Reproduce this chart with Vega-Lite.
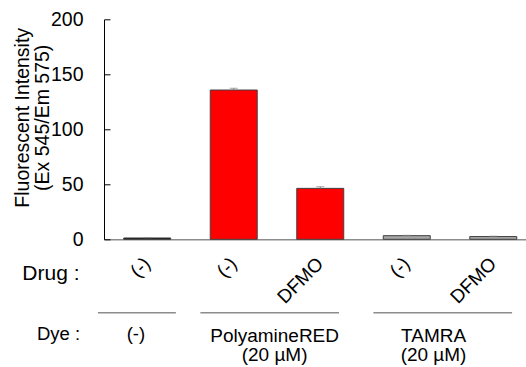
{
  "$schema": "https://vega.github.io/schema/vega-lite/v6.json",
  "width": 432.5,
  "height": 220,
  "autosize": "none",
  "padding": {"left": 104, "top": 19.3, "right": 0, "bottom": 128},
  "config": {"view": {"stroke": null}, "font": "Liberation Sans", "text": {"font": "Liberation Sans"}},
  "datasets": {
    "bars": [
      {"sample": "1 (-)", "drug": "(-)", "dye": "(-)", "value": 1.2, "hi": 1.4},
      {"sample": "2 (-)", "drug": "(-)", "dye": "PolyamineRED", "value": 135.7, "hi": 137.3},
      {"sample": "3 DFMO", "drug": "DFMO", "dye": "PolyamineRED", "value": 46.3, "hi": 47.8},
      {"sample": "4 (-)", "drug": "(-)", "dye": "TAMRA", "value": 3.3, "hi": 3.6},
      {"sample": "5 DFMO", "drug": "DFMO", "dye": "TAMRA", "value": 2.5, "hi": 2.8}
    ],
    "groups": [
      {"dye": "(-)", "first": "1 (-)", "last": "1 (-)", "label": "(-)"},
      {"dye": "PolyamineRED", "first": "2 (-)", "last": "3 DFMO", "label": "PolyamineRED\n(20 µM)"},
      {"dye": "TAMRA", "first": "4 (-)", "last": "5 DFMO", "label": "TAMRA\n(20 µM)"}
    ],
    "rowlabels": [{"label": "Dye :", "at": "1 (-)"}]
  },
  "layer": [
    {
      "data": {"name": "bars"},
      "mark": {"type": "bar", "stroke": "#404040", "strokeWidth": 1},
      "encoding": {
        "x": {
          "field": "sample", "type": "nominal", "sort": null,
          "scale": {"domain": ["1 (-)", "2 (-)", "3 DFMO", "4 (-)", "5 DFMO"], "paddingInner": 0.457, "paddingOuter": 0.228},
          "axis": {
            "title": "Drug :", "labelExpr": "slice(datum.value, 2)", "labelAngle": -45, "labelAlign": "right",
            "labelBaseline": "middle", "labelPadding": 21, "ticks": false, "tickSize": 0, "labelFontSize": 19,
            "labelColor": "#000", "labelFont": "Liberation Sans", "labelOverlap": false,
            "domainColor": "#8c8c8c", "domainWidth": 1.5,
            "titleFont": "Liberation Sans", "titleFontSize": 21, "titleFontWeight": "normal", "titleColor": "#000",
            "titleX": -25, "titleY": 40, "titleAlign": "right", "titleBaseline": "alphabetic", "titleAngle": 0
          }
        },
        "y": {
          "field": "value", "type": "quantitative",
          "scale": {"domain": [0, 200], "nice": false},
          "axis": {
            "title": ["Fluorescent Intensity", "(Ex 545/Em 575)"], "values": [0, 50, 100, 150, 200], "grid": false,
            "domainColor": "#000", "tickColor": "#000", "tickSize": -6, "labelPadding": 27,
            "labelFontSize": 19.5, "labelColor": "#000", "labelFont": "Liberation Sans",
            "titleFont": "Liberation Sans", "titleFontSize": 19.5, "titleFontWeight": "normal", "titleColor": "#000",
            "titleLineHeight": 21, "titleX": -72, "titleY": 98, "titleAngle": 270, "titleAlign": "center", "titleBaseline": "bottom"
          }
        },
        "color": {
          "field": "dye", "type": "nominal",
          "scale": {"domain": ["(-)", "PolyamineRED", "TAMRA"], "range": ["#000000", "#FF0000", "#A6A6A6"]},
          "legend": null
        }
      }
    },
    {
      "data": {"name": "bars"},
      "mark": {"type": "rule", "color": "#808080", "strokeWidth": 1},
      "encoding": {
        "x": {"field": "sample", "type": "nominal"},
        "y": {"field": "value", "type": "quantitative"},
        "y2": {"field": "hi"}
      }
    },
    {
      "data": {"name": "bars"},
      "mark": {"type": "tick", "color": "#808080", "size": 8, "thickness": 1},
      "encoding": {
        "x": {"field": "sample", "type": "nominal"},
        "y": {"field": "hi", "type": "quantitative"}
      }
    },
    {
      "data": {"name": "groups"},
      "transform": [{"filter": "datum.dye === '(-)'"}],
      "mark": {"type": "rule", "color": "#8c8c8c", "strokeWidth": 1.5},
      "encoding": {
        "x": {"field": "first", "type": "nominal", "bandPosition": -0.55},
        "x2": {"field": "last", "bandPosition": 1.11},
        "y": {"datum": -66.7, "type": "quantitative"}
      }
    },
    {
      "data": {"name": "groups"},
      "transform": [{"filter": "datum.dye !== '(-)'"}],
      "mark": {"type": "rule", "color": "#8c8c8c", "strokeWidth": 1.5},
      "encoding": {
        "x": {"field": "first", "type": "nominal", "bandPosition": -0.21},
        "x2": {"field": "last", "bandPosition": 0.9},
        "y": {"datum": -66.7, "type": "quantitative"}
      }
    },
    {
      "data": {"name": "groups"},
      "transform": [{"filter": "datum.dye === '(-)'"}],
      "mark": {"type": "text", "fontSize": 18.5, "align": "center", "baseline": "alphabetic", "color": "#000"},
      "encoding": {
        "x": {"field": "first", "type": "nominal", "bandPosition": 0.26},
        "y": {"datum": -91.5, "type": "quantitative"},
        "text": {"field": "label"}
      }
    },
    {
      "data": {"name": "groups"},
      "transform": [{"filter": "datum.dye === 'PolyamineRED'"}],
      "mark": {"type": "text", "fontSize": 19, "lineBreak": "\n", "lineHeight": 19, "align": "center", "baseline": "alphabetic", "color": "#000"},
      "encoding": {
        "x": {"field": "first", "type": "nominal", "bandPosition": 1.37},
        "y": {"datum": -93.3, "type": "quantitative"},
        "text": {"field": "label"}
      }
    },
    {
      "data": {"name": "groups"},
      "transform": [{"filter": "datum.dye === 'TAMRA'"}],
      "mark": {"type": "text", "fontSize": 19, "lineBreak": "\n", "lineHeight": 19, "align": "center", "baseline": "alphabetic", "color": "#000"},
      "encoding": {
        "x": {"field": "first", "type": "nominal", "bandPosition": 1.07},
        "y": {"datum": -93.3, "type": "quantitative"},
        "text": {"field": "label"}
      }
    },
    {
      "data": {"name": "rowlabels"},
      "mark": {"type": "text", "fontSize": 18.5, "align": "right", "baseline": "alphabetic", "color": "#000"},
      "encoding": {
        "x": {"field": "at", "type": "nominal", "bandPosition": -0.93},
        "y": {"datum": -91.5, "type": "quantitative"},
        "text": {"field": "label"}
      }
    }
  ]
}
